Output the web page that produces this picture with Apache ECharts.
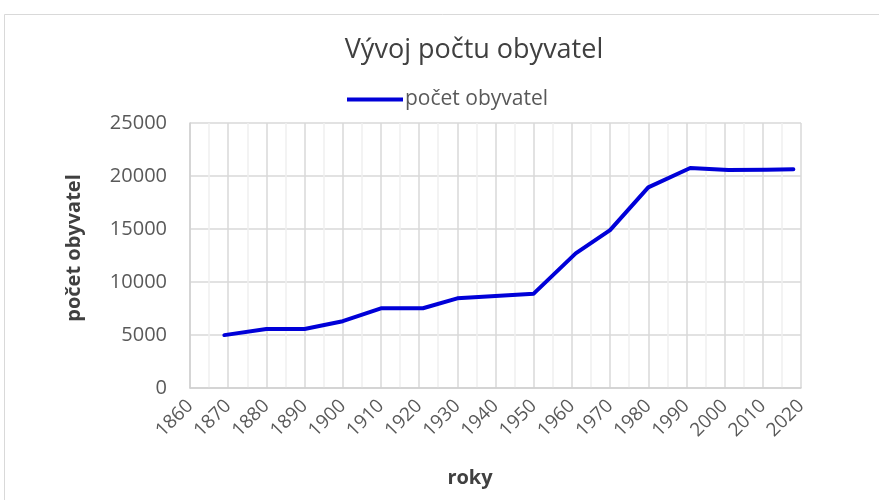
<!DOCTYPE html>
<html><head><meta charset="utf-8">
<script src="https://cdn.jsdelivr.net/npm/echarts@6/dist/echarts.min.js"></script>
<style>html,body{margin:0;padding:0;background:#fff}#c{width:879px;height:500px}</style>
</head><body><div id="c"></div>
<script>
const titleText = 'Vývoj počtu obyvatel';
const seriesName = 'počet obyvatel';
const xAxisTitle = 'roky';
const yAxisTitle = 'počet obyvatel';
const years = [1869, 1880, 1890, 1900, 1910, 1921, 1930, 1950, 1961, 1970, 1980, 1991, 2001, 2011, 2018];
const population = [4990, 5560, 5560, 6300, 7520, 7520, 8460, 8900, 12700, 14900, 18930, 20760, 20570, 20600, 20630];

const FONT = '"Open Sans", "Noto Sans", sans-serif';
const chart = echarts.init(document.getElementById('c'), null, {renderer: 'canvas'});
chart.setOption({
  animation: false,
  backgroundColor: '#fff',
  title: {
    text: titleText, left: 469, top: 32, textAlign: 'center',
    textStyle: {fontFamily: FONT, fontSize: 27, fontWeight: 'normal', color: '#404040'}
  },
  legend: {
    data: [seriesName], left: 342, top: 84, itemWidth: 56, itemHeight: 4, itemGap: 0,
    icon: 'rect',
    textStyle: {fontFamily: FONT, fontSize: 21, color: '#595959', padding: [0,0,0,-3]}
  },
  graphic: [
    {type: 'rect', shape: {x: 4.5, y: 14.5, width: 900, height: 520}, style: {fill: 'none', stroke: '#d9d9d9', lineWidth: 1}, silent: true, z: -1},
    {type: 'text', x: 470, y: 478, style: {text: xAxisTitle, align: 'center', verticalAlign: 'middle', font: 'bold 20px ' + FONT, fill: '#404040'}},
    {type: 'text', x: 74, y: 248, rotation: Math.PI / 2, style: {text: yAxisTitle, align: 'center', verticalAlign: 'middle', font: 'bold 20px ' + FONT, fill: '#404040'}}
  ],
  grid: {left: 190, right: 78, top: 123, bottom: 112, containLabel: false},
  xAxis: {
    type: 'value', min: 1860, max: 2020, interval: 10,
    axisLine: {show: true, lineStyle: {color: '#d0d0d0', width: 1.5}},
    axisTick: {show: false},
    axisLabel: {rotate: 45, margin: 15, fontFamily: FONT, fontSize: 19, color: '#595959', formatter: v => String(v)},
    splitLine: {show: true, lineStyle: {color: '#d9d9d9', width: 1.5}},
    minorTick: {show: false, splitNumber: 2},
    minorSplitLine: {show: true, lineStyle: {color: '#f0f0f0', width: 1.5}}
  },
  yAxis: {
    type: 'value', min: 0, max: 25000, interval: 5000,
    axisLine: {show: true, lineStyle: {color: '#d0d0d0', width: 1.5}},
    axisTick: {show: false},
    axisLabel: {margin: 23, fontFamily: FONT, fontSize: 20, color: '#595959', formatter: v => String(v)},
    splitLine: {show: true, lineStyle: {color: '#d9d9d9', width: 1.5}}
  },
  series: [{
    name: seriesName, type: 'line', data: years.map((y, i) => [y, population[i]]),
    showSymbol: false, symbol: 'none',
    lineStyle: {color: '#0000d8', width: 4, cap: 'round', join: 'round'},
    itemStyle: {color: '#0000d8'}
  }]
});
</script></body></html>
